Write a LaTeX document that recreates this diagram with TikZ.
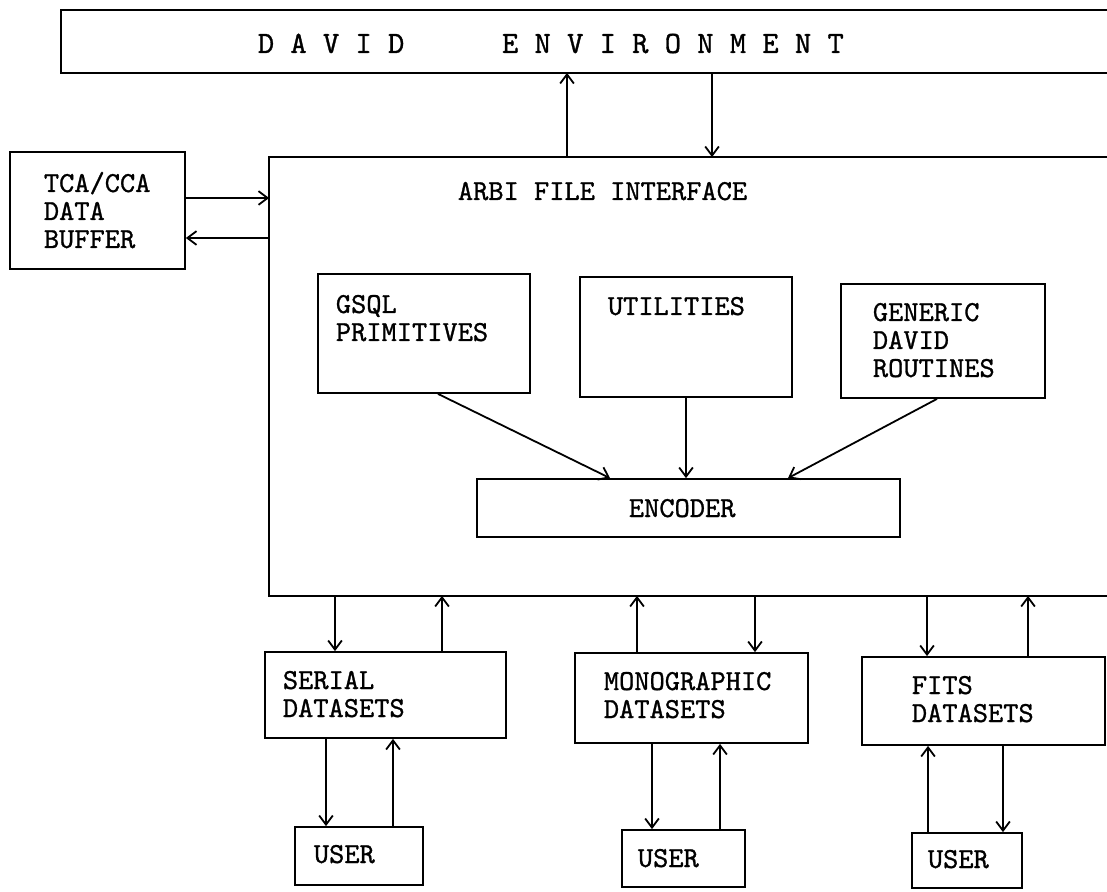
\documentclass[tikz,border=0pt]{standalone}
\usepackage{fontspec}
\usepackage{tikz}
\usetikzlibrary{arrows.meta,fit}
\newfontfamily\typ{lmmono10-regular.otf}[RawFeature={embolden=1.0}]
\tikzset{
  >={Straight Barb[length=1.6mm,width=2.4mm]},
  box/.style={draw,rectangle,inner sep=0pt},
  hol/.style={rectangle,inner sep=0pt},
  txt/.style={inner sep=0pt,align=left,anchor=base west,font=\typ\fontsize{14.5}{14}\selectfont},
  every picture/.style={line width=0.9pt},
}
\begin{document}
\begin{tikzpicture}[x=0.5pt,y=-0.5pt]
\useasboundingbox (0,0) rectangle (1107,892);
% open boxes, cut by the right margin
\node[hol,fit={(62,11)(1107,72)}] (env){};
\node[hol,fit={(270,158)(1107,595)}] (arbi){};
\draw (env.north east)--(env.north west)--(env.south west)--(env.south east);
\draw (arbi.north east)--(arbi.north west)--(arbi.south west)--(arbi.south east);
\node[txt,font=\typ\fontsize{15.5}{14}\selectfont] (envT) at (257,53) {D A V I D\ \ \ \ \ \ E N V I R O N M E N T};
\node[txt] (arbiT) at (457,200) {ARBI FILE INTERFACE};
% closed boxes
\node[box,fit={(10,152)(185,269)}] (tca){};
\node[box,fit={(318,274)(530,393)}] (gsql){};
\node[box,fit={(580,277)(792,397)}] (util){};
\node[box,fit={(841,284)(1045,398)}] (gen){};
\node[box,fit={(477,479)(900,537)}] (enc){};
\node[box,fit={(265,652)(506,738)}] (ser){};
\node[box,fit={(575,653)(808,743)}] (mono){};
\node[box,fit={(862,657)(1105,745)}] (fits){};
\node[box,fit={(295,827)(423,885)}] (us1){};
\node[box,fit={(622,830)(745,887)}] (us2){};
\node[box,fit={(912,833)(1022,888)}] (us3){};
% labels sit on the baseline of their last line
\node[txt] (tcaT) at (43,248) {TCA/CCA\\DATA\\BUFFER};
\node[txt] (gsqlT) at (335,341) {GSQL\\PRIMITIVES};
\node[txt] (utilT) at (607,315) {UTILITIES};
\node[txt] (genT) at (872,377) {GENERIC\\DAVID\\ROUTINES};
\node[txt] (encT) at (628,517) {ENCODER};
\node[txt] (serT) at (282,717) {SERIAL\\DATASETS};
\node[txt] (monoT) at (603,718) {MONOGRAPHIC\\DATASETS};
\node[txt] (fitsT) at (911,722) {FITS\\DATASETS};
\node[txt] (us1T) at (313,863) {USER};
\node[txt] (us2T) at (637,867) {USER};
\node[txt] (us3T) at (927,868) {USER};
% connectors
\draw[->] (arbi.north -| 567,0)--(env.south -| 567,0);
\draw[->] (env.south -| 712,0)--(arbi.north -| 712,0);
\draw[->] (tca.east |- 0,198)--(arbi.west |- 0,198);
\draw[->] (arbi.west |- 0,238)--(tca.east |- 0,238);
\draw[->] (gsql.south -| 438,0)--(enc.north -| 610,0);
\draw[->] (util.south)--(enc.north -| util.south);
\draw[->] (gen.south -| 937,0)--(enc.north -| 788,0);
\foreach \a/\b/\x in {arbi.south/ser.north/335,ser.north/arbi.south/442,
  mono.north/arbi.south/637,arbi.south/mono.north/755,
  arbi.south/fits.north/927,fits.north/arbi.south/1028,
  ser.south/us1.north/326,us1.north/ser.south/393,
  mono.south/us2.north/652,us2.north/mono.south/720,
  us3.north/fits.south/928,fits.south/us3.north/1003}
  \draw[->] (\a -| \x,0)--(\b -| \x,0);
\end{tikzpicture}
\end{document}
